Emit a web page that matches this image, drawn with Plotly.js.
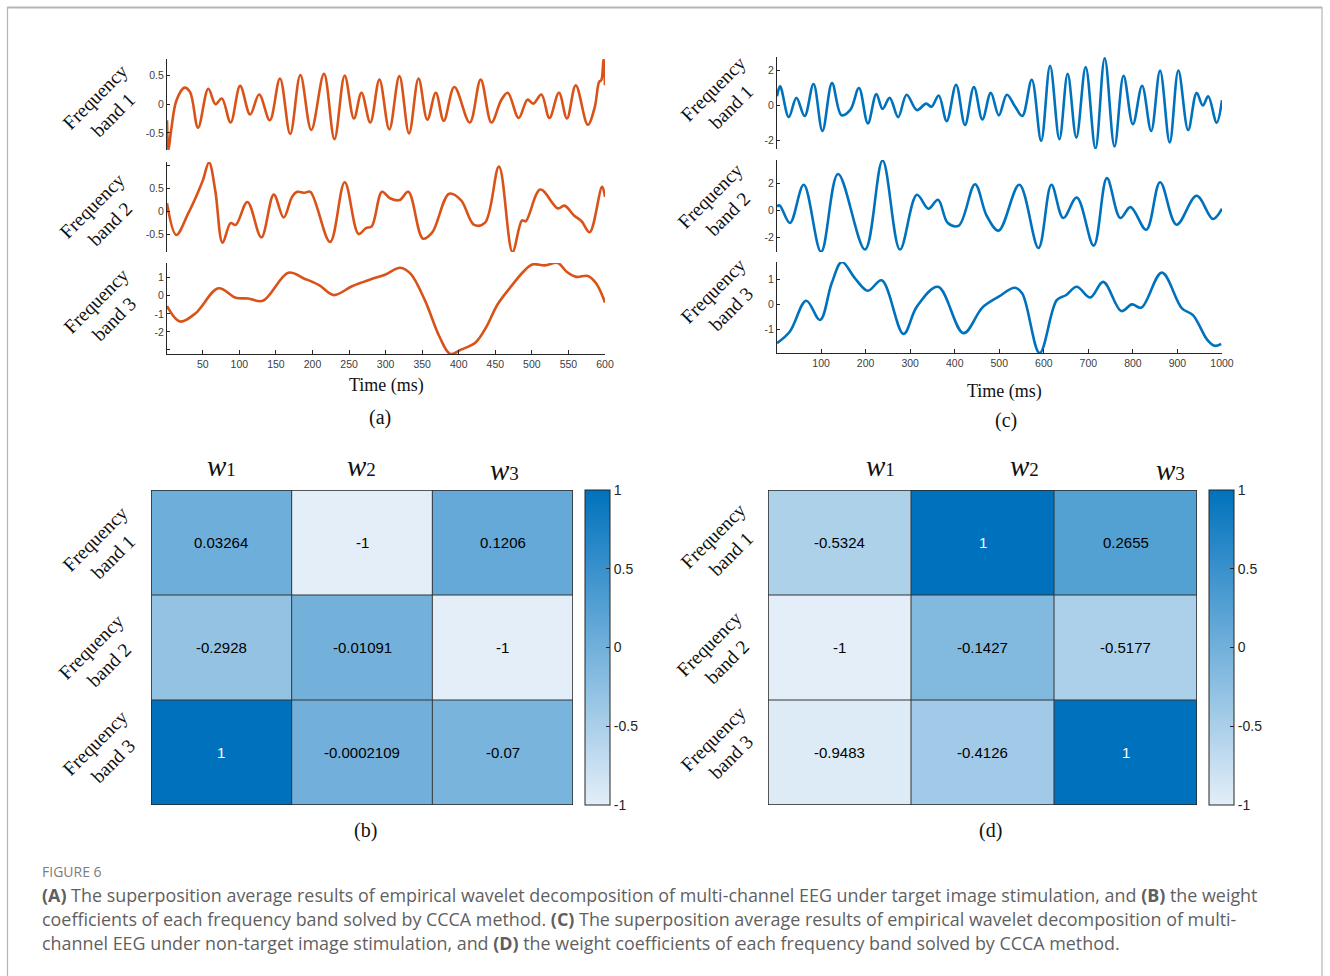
<!DOCTYPE html>
<html><head><meta charset="utf-8">
<script src="https://cdn.plot.ly/plotly-3.0.1.min.js"></script>
<style>html,body{margin:0;padding:0;background:#fff;}#chart{width:1330px;height:976px;}</style>
</head><body><div id="chart"></div>
<script>
// ---------- DATA ----------
// (a) target stimulation, time in ms
const a1_t = [1,3,6.7,14,25,32.6,43.5,57.5,67.4,76,88,101,114.7,127,141.6,155.5,169.5,183.4,198.3,215.7,230,244,256.6,267,279,291.5,305,318.8,332,345,357,368.6,379.5,394,415,430,444.7,458,467,482,494,502,513,524,537,548,560,576.5,586,592,595,598,600];
const a1_v = [-0.28,-0.8,-0.45,0.07,0.29,0.21,-0.41,0.27,0.0,0.1,-0.32,0.32,-0.18,0.17,-0.28,0.45,-0.52,0.51,-0.45,0.53,-0.61,0.5,-0.25,0.2,-0.32,0.43,-0.44,0.49,-0.51,0.45,-0.27,0.2,-0.29,0.3,-0.32,0.43,-0.32,0.07,0.2,-0.24,0.08,0.01,0.17,-0.24,0.2,-0.25,0.33,-0.36,-0.05,0.39,0.42,0.79,0.33];
const a2_t = [1,13.7,30,42.5,50,58.5,67,77,88,95,111,130,147,160.5,172,179,189,197,224,244,263,273,281,295,306,319,331,351,363.5,387,403,421,436,455,473.5,486.5,491.6,511.5,535.5,544.5,558,568,579,596,600];
const a2_v = [0.18,-0.51,-0.04,0.39,0.68,1.07,0.46,-0.68,-0.25,-0.29,0.21,-0.56,0.37,-0.13,0.32,0.43,0.41,0.43,-0.66,0.64,-0.49,-0.36,-0.32,0.43,0.29,0.25,0.43,-0.59,-0.46,0.39,0.25,-0.29,-0.24,0.98,-0.88,-0.19,-0.21,0.48,0.07,0.13,-0.09,-0.21,-0.45,0.54,0.32];
const a3_t = [1,19,40,71.4,95,112,132,167,189,209,229,254,279,299,320,334,353.6,373.5,388.5,403,423,438,453,473,488,500.5,518,535.5,548,561,576.5,588,600];
const a3_v = [-0.57,-1.43,-0.97,0.42,-0.11,-0.15,-0.28,1.28,0.95,0.59,0.04,0.53,0.9,1.17,1.56,1.23,-0.24,-2.26,-3.23,-2.99,-2.59,-1.71,-0.48,0.59,1.32,1.74,1.69,1.82,1.32,1.05,1.1,0.68,-0.37];
// (c) non-target stimulation
const c1_t = [1,8,27.4,44.6,63,83,103,124.5,145.7,166,185,205,224,238,254,273,292,315,335.6,348,364,382,403,423,443,462,481,499,517,535,551.6,573,594,614,635,653.5,673,694,716,736.7,758.7,779,800,820.6,841,861,882.6,902,924,943,957,969,988,1000];
const c1_v = [0.51,1.08,-0.68,0.42,-0.62,1.21,-1.47,1.26,-0.57,-0.25,0.98,-1.04,0.64,-0.21,0.42,-0.68,0.6,-0.28,0.09,-0.09,0.55,-0.91,1.17,-1.13,1.04,-0.81,0.7,-0.58,0.6,-0.06,-0.62,1.45,-2.04,2.25,-1.94,1.79,-1.85,2.17,-2.47,2.68,-2.36,1.68,-1.09,1.11,-1.47,1.98,-2.13,1.98,-1.42,0.7,-0.02,0.51,-1.0,0.28];
const c2_t = [1,7,30,61,100,138,198.6,238,277,315,341,362.5,384.5,409,445.6,471.7,498.6,545,588,617,643.7,674,712,741.6,771.7,794.5,830,861,898,943,979.6,1000];
const c2_v = [0.27,0.34,-0.96,1.87,-3.09,2.67,-2.92,3.66,-2.92,1.13,0.1,0.76,-0.96,-1.15,1.91,-0.42,-1.52,1.87,-2.8,1.87,-0.59,0.93,-2.63,2.36,-0.59,0.22,-1.45,2.06,-1.08,1.06,-0.66,0.1];
const c3_t = [1,30,66.6,97.6,123.6,146.5,176.6,205,236,285,315,362.5,419.6,462,498.6,535,551.6,590.7,629,649.5,674,704,733.4,774,797.8,819,865,910,934.8,967,983.6,998];
const c3_v = [-1.56,-1.09,0.15,-0.63,0.84,1.71,1.04,0.55,0.97,-1.19,-0.09,0.71,-1.16,-0.13,0.31,0.67,0.44,-1.96,0.17,0.37,0.71,0.28,0.91,-0.27,0.0,-0.13,1.28,-0.16,-0.43,-1.43,-1.67,-1.59];
// heatmaps
const bandLabels = ["Frequency<br>band 1","Frequency<br>band 2","Frequency<br>band 3"];
const weightLabels = ["1","2","3"];
const b_vals = [[0.03264,-1,0.1206],[-0.2928,-0.01091,-1],[1,-0.0002109,-0.07]];
const b_text = [["0.03264","-1","0.1206"],["-0.2928","-0.01091","-1"],["1","-0.0002109","-0.07"]];
const d_vals = [[-0.5324,1,0.2655],[-1,-0.1427,-0.5177],[-0.9483,-0.4126,1]];
const d_text = [["-0.5324","1","0.2655"],["-1","-0.1427","-0.5177"],["-0.9483","-0.4126","1"]];
const cbTicks = [-1,-0.5,0,0.5,1];
const cbTickText = ["-1","-0.5","0","0.5","1"];

// ---------- LAYOUT HELPERS ----------
const W=1330,H=976;
const px=x=>x/W, py=y=>1-y/H;
const SERIF="Liberation Serif, Times New Roman, serif";
const SANS="Liberation Sans, Arial, sans-serif";
const ORANGE="#d95319", BLUE="#0072bd";
const axCol="#262626";

function lineTrace(t,v,col,n){
  return {x:t,y:v,type:"scatter",mode:"lines",line:{color:col,width:2.6,shape:"spline",smoothing:1},
    xaxis:"x"+(n===1?"":n),yaxis:"y"+(n===1?"":n),hoverinfo:"skip",showlegend:false};
}
function yax(top,bot,range,tv,tt,anchor){
  return {domain:[py(bot),py(top)],range:range,anchor:anchor,showline:true,linecolor:axCol,linewidth:1,
    ticks:"inside",ticklen:3,tickcolor:axCol,tickvals:tv,ticktext:tt,showgrid:false,zeroline:false,
    tickfont:{family:SANS,size:10.5,color:"#404040"},fixedrange:true};
}
function xax(l,r,range,anchor,show,tv){
  const o={domain:[px(l),px(r)],range:range,anchor:anchor,showgrid:false,zeroline:false,fixedrange:true};
  if(show){Object.assign(o,{showline:true,linecolor:axCol,linewidth:1,ticks:"inside",ticklen:4,tickcolor:axCol,
    tickvals:tv,tickfont:{family:SANS,size:10.5,color:"#404040"}});}
  else{Object.assign(o,{showline:false,showticklabels:false,ticks:""});}
  return o;
}

const colorscale=[[0,"rgb(227,238,248)"],[1,"rgb(0,114,189)"]];
function heat(vals,n,cbx){
  return {z:vals,x:[0,1,2],y:[0,1,2],type:"heatmap",colorscale:colorscale,zmin:-1,zmax:1,
    xaxis:"x"+n,yaxis:"y"+n,hoverinfo:"skip",
    colorbar:{x:px(cbx),xanchor:"left",xpad:0,ypad:0,y:py(647.5),yanchor:"middle",len:315,lenmode:"pixels",
      thickness:25,thicknessmode:"pixels",outlinewidth:1,outlinecolor:axCol,tickvals:cbTicks,ticktext:cbTickText,
      ticks:"inside",ticklen:4,tickcolor:axCol,tickfont:{family:SANS,size:14,color:"#262626"}}};
}

const data=[
  lineTrace(a1_t,a1_v,ORANGE,1),lineTrace(a2_t,a2_v,ORANGE,2),lineTrace(a3_t,a3_v,ORANGE,3),
  lineTrace(c1_t,c1_v,BLUE,4),lineTrace(c2_t,c2_v,BLUE,5),lineTrace(c3_t,c3_v,BLUE,6),
  heat(b_vals,7,585),heat(d_vals,8,1209)
];

const aT=[50,100,150,200,250,300,350,400,450,500,550,600];
const cT=[100,200,300,400,500,600,700,800,900,1000];
const layout={
  width:W,height:H,margin:{l:0,r:0,t:0,b:0},paper_bgcolor:"#fff",plot_bgcolor:"rgba(0,0,0,0)",showlegend:false,
  xaxis:xax(167,605,[1,600],"y",false),
  xaxis2:xax(167,605,[1,600],"y2",false),
  xaxis3:xax(167,605,[1,600],"y3",true,aT),
  yaxis:yax(59,150,[-0.8,0.79],[-0.5,0,0.5],["-0.5","0","0.5"],"x"),
  yaxis2:yax(162,252,[-0.88,1.08],[-0.5,0,0.5,1],["-0.5","0","0.5",""],"x2"),
  yaxis3:yax(263,354,[-3.23,1.82],[-3,-2,-1,0,1],["","-2","-1","0","1"],"x3"),
  xaxis4:xax(777,1222,[1,1000],"y4",false),
  xaxis5:xax(777,1222,[1,1000],"y5",false),
  xaxis6:xax(777,1222,[1,1000],"y6",true,cT),
  yaxis4:yax(57,149,[-2.5,2.75],[-2,0,2],["-2","0","2"],"x4"),
  yaxis5:yax(160,252,[-3.1,3.7],[-2,0,2],["-2","0","2"],"x5"),
  yaxis6:yax(262,353,[-1.96,1.71],[-1,0,1],["-1","0","1"],"x6"),
  xaxis7:{domain:[px(151),px(573)],range:[-0.5,2.5],anchor:"y7",showticklabels:false,ticks:"",showgrid:false,zeroline:false,showline:false,fixedrange:true},
  yaxis7:{domain:[py(805),py(490)],range:[2.5,-0.5],anchor:"x7",showticklabels:false,ticks:"",showgrid:false,zeroline:false,showline:false,fixedrange:true},
  xaxis8:{domain:[px(768),px(1197)],range:[-0.5,2.5],anchor:"y8",showticklabels:false,ticks:"",showgrid:false,zeroline:false,showline:false,fixedrange:true},
  yaxis8:{domain:[py(805),py(490)],range:[2.5,-0.5],anchor:"x8",showticklabels:false,ticks:"",showgrid:false,zeroline:false,showline:false,fixedrange:true},
  shapes:[],annotations:[]
};

// heatmap grid lines
[7,8].forEach(n=>{
  const xr="x"+n, yr="y"+n;
  layout.shapes.push({type:"rect",xref:xr,yref:yr,x0:-0.5,x1:2.5,y0:-0.5,y1:2.5,line:{color:axCol,width:1.5}});
  [0.5,1.5].forEach(k=>{
    layout.shapes.push({type:"line",xref:xr,yref:yr,x0:k,x1:k,y0:-0.5,y1:2.5,line:{color:"#333",width:1}});
    layout.shapes.push({type:"line",xref:xr,yref:yr,x0:-0.5,x1:2.5,y0:k,y1:k,line:{color:"#333",width:1}});
  });
});
// outer figure frame
layout.shapes.push({type:"line",xref:"paper",yref:"paper",x0:px(7),x1:px(1322),y0:py(7.5),y1:py(7.5),line:{color:"#b5b5b5",width:2}});
layout.shapes.push({type:"line",xref:"paper",yref:"paper",x0:px(7.5),x1:px(7.5),y0:py(7),y1:0,line:{color:"#b5b5b5",width:1.2}});
layout.shapes.push({type:"line",xref:"paper",yref:"paper",x0:px(1322),x1:px(1322),y0:py(7),y1:0,line:{color:"#b5b5b5",width:1.2}});

const A=layout.annotations;
function txt(x,y,text,size,opts){
  A.push(Object.assign({xref:"paper",yref:"paper",x:px(x),y:py(y),text:text,showarrow:false,
    xanchor:"center",yanchor:"middle",font:{family:SERIF,size:size,color:"#111"}},opts||{}));
}
// cell values
function cellText(vals,texts,n){
  for(let r=0;r<3;r++)for(let c=0;c<3;c++){
    A.push({xref:"x"+n,yref:"y"+n,x:c,y:r,text:texts[r][c],showarrow:false,
      font:{family:SANS,size:15,color:vals[r][c]>=0.9?"#ffffff":"#000000"}});
  }
}
cellText(b_vals,b_text,7);cellText(d_vals,d_text,8);

// band labels for line panels
const aLab=[[104,106],[101,215],[105,310]];
const cLab=[[722,98],[719,205],[722,300]];
const bLab=[[104,548],[100,656],[104,752]];
const dLab=[[722,545],[718,653],[722,748]];
[aLab,cLab,bLab,dLab].forEach(set=>set.forEach((p,i)=>txt(p[0],p[1],bandLabels[i],19.5,{textangle:-45})));

// weight headers
const bHead=[[221,466],[362,466],[504,470]];
const dHead=[[880,466],[1024,466],[1170,470]];
[bHead,dHead].forEach(set=>set.forEach((p,i)=>txt(p[0],p[1],'<i>w</i><span style="font-size:19px">'+weightLabels[i]+'</span>',29)));

// axis titles and panel letters
txt(386,386,"Time (ms)",18);
txt(1004,391,"Time (ms)",18);
txt(380,417,"(a)",20);
txt(1006,420,"(c)",20);
txt(365,830,"(b)",20);
txt(990,830,"(d)",20);

// caption
const CAP="Open Sans, Lato, sans-serif";
A.push({xref:"paper",yref:"paper",x:px(40),y:py(871),xanchor:"left",yanchor:"middle",showarrow:false,
  text:"FIGURE 6",font:{family:CAP,size:14,color:"#7d7d7d"}});
const capLines=[
  "<b>(A)</b> The superposition average results of empirical wavelet decomposition of multi-channel EEG under target image stimulation, and <b>(B)</b> the weight",
  "coefficients of each frequency band solved by CCCA method. <b>(C)</b> The superposition average results of empirical wavelet decomposition of multi-",
  "channel EEG under non-target image stimulation, and <b>(D)</b> the weight coefficients of each frequency band solved by CCCA method."
];
capLines.forEach((t,i)=>A.push({xref:"paper",yref:"paper",x:px(40),y:py(895+24*i),xanchor:"left",yanchor:"middle",showarrow:false,
  text:t,font:{family:CAP,size:17.9,color:"#5f5f5f"}}));

Plotly.newPlot("chart",data,layout,{displayModeBar:false,staticPlot:true});
</script>
</body></html>
